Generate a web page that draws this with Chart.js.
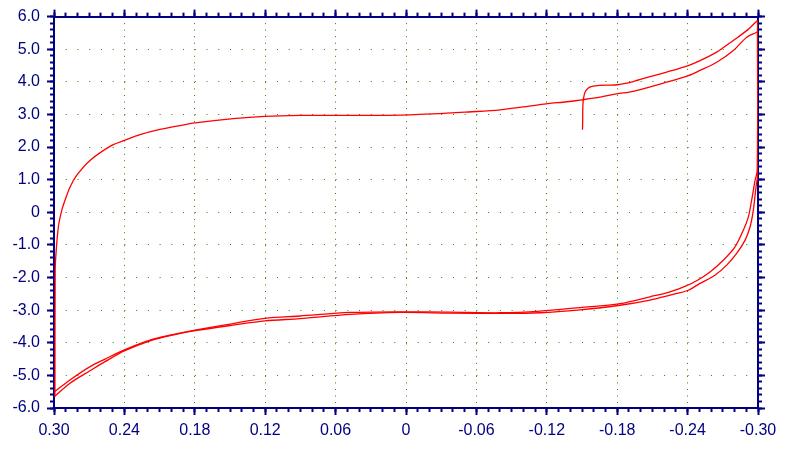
<!DOCTYPE html>
<html>
<head>
<meta charset="utf-8">
<script src="https://cdn.jsdelivr.net/npm/chart.js@4.4.0/dist/chart.umd.min.js"></script>
<style>
  html, body { margin: 0; padding: 0; background: #fff; }
  #wrap { width: 798px; height: 450px; }
</style>
</head>
<body>
<div id="wrap"><canvas id="cv"></canvas></div>
<script>
// potential (x, reversed) and current (y)
const sweep1E = [-0.1504, -0.1506, -0.1506, -0.1508, -0.1513, -0.1525, -0.1551, -0.1585, -0.1653, -0.1798, -0.1937, -0.2080, -0.2222, -0.2406, -0.2506, -0.2648, -0.2790, -0.2904, -0.2989, -0.2996];
const sweep1I = [2.53, 2.82, 3.03, 3.31, 3.49, 3.67, 3.80, 3.86, 3.89, 3.91, 4.01, 4.16, 4.30, 4.50, 4.65, 4.91, 5.27, 5.57, 5.86, 5.88];

const sweep2E = [-0.2996, -0.2996, -0.2983, -0.2960, -0.2932, -0.2889, -0.2818, -0.2733, -0.2633, -0.2506, -0.2406, -0.2250, -0.2080, -0.1824, -0.1483, -0.1142, -0.0801, -0.0375, 0.0051, 0.0477, 0.0904, 0.1202, 0.1474, 0.1798, 0.2000, 0.2182, 0.2401, 0.2565, 0.2693, 0.2864, 0.2996];
const sweep2I = [5.88, 1.13, 0.77, 0.06, -0.45, -0.86, -1.26, -1.62, -1.93, -2.18, -2.39, -2.54, -2.69, -2.85, -2.99, -3.08, -3.10, -3.09, -3.07, -3.13, -3.26, -3.33, -3.46, -3.63, -3.77, -3.94, -4.25, -4.58, -4.86, -5.24, -5.65];

const sweep3E = [0.2992, 0.2990, 0.2983, 0.2963, 0.2934, 0.2906, 0.2864, 0.2807, 0.2693, 0.2508, 0.2395, 0.2267, 0.2097, 0.1926, 0.1798, 0.1474, 0.1202, 0.0904, 0.0605, -0.0034, -0.0603, -0.0801, -0.1082, -0.1208, -0.1370, -0.1500, -0.1653, -0.1796, -0.1937, -0.2222, -0.2406, -0.2506, -0.2648, -0.2790, -0.2904, -0.2989, -0.2996];
const sweep3I = [-5.65, -1.80, -1.26, -0.45, 0.06, 0.37, 0.77, 1.13, 1.59, 2.05, 2.21, 2.38, 2.54, 2.66, 2.74, 2.87, 2.94, 2.97, 2.97, 2.99, 3.09, 3.14, 3.27, 3.33, 3.39, 3.45, 3.53, 3.63, 3.71, 3.99, 4.19, 4.35, 4.60, 4.96, 5.37, 5.52, 5.54];

const sweep4E = [-0.2996, -0.2994, -0.2975, -0.2946, -0.2918, -0.2875, -0.2804, -0.2704, -0.2591, -0.2477, -0.2392, -0.2250, -0.2080, -0.1824, -0.1483, -0.1142, -0.0801, -0.0375, 0.0051, 0.0477, 0.0904, 0.1202, 0.1474, 0.1798, 0.2000, 0.2182, 0.2401, 0.2565, 0.2693, 0.2864, 0.2996];
const sweep4I = [5.54, 1.30, 0.98, 0.37, -0.14, -0.55, -1.06, -1.47, -1.83, -2.10, -2.25, -2.44, -2.59, -2.80, -2.92, -3.03, -3.08, -3.06, -3.05, -3.07, -3.18, -3.25, -3.41, -3.61, -3.76, -3.92, -4.22, -4.50, -4.73, -5.14, -5.50];

const xTicks = [0.30, 0.24, 0.18, 0.12, 0.06, 0, -0.06, -0.12, -0.18, -0.24, -0.30];
const xLabels = ['0.30', '0.24', '0.18', '0.12', '0.06', '0', '-0.06', '-0.12', '-0.18', '-0.24', '-0.30'];
const yTicks = [-6, -5, -4, -3, -2, -1, 0, 1, 2, 3, 4, 5, 6];
const yLabels = ['-6.0', '-5.0', '-4.0', '-3.0', '-2.0', '-1.0', '0', '1.0', '2.0', '3.0', '4.0', '5.0', '6.0'];

const AXIS = '#000080';
const GRID = '#3a7a00';
const RED = '#ff0000';
const font = { family: "'Liberation Sans', Arial, sans-serif", size: 16 };

const toPoints = (es, is) => es.map((e, i) => ({ x: e, y: is[i] }));
const fixSize = px => scale => { if (scale.isHorizontal()) scale.height = px; else scale.width = px; };
const setTicks = values => scale => { scale.ticks = values.map(v => ({ value: v })); };
const steps = (lo, hi, n) => Array.from({ length: n + 1 }, (_, i) => lo + (hi - lo) * i / n);

const xMinor = steps(-0.3, 0.3, 60);
const yMinor = steps(-6, 6, 60);

function axis(pos, isX, opts) {
  const base = {
    type: 'linear',
    position: pos,
    min: isX ? -0.3 : -6,
    max: isX ? 0.3 : 6,
    reverse: isX,
    ticks: { display: false },
    grid: { drawOnChartArea: false, tickLength: 7, tickColor: AXIS, tickWidth: 2, z: -1 },
    border: { display: true, color: AXIS, width: 2 },
    weight: 1
  };
  return Object.assign(base, opts);
}

function minorAxis(pos, isX) {
  return axis(pos, isX, {
    weight: 0,
    afterBuildTicks: setTicks(isX ? xMinor : yMinor),
    afterFit: fixSize(0),
    grid: { drawOnChartArea: false, tickLength: 4, tickColor: AXIS, tickWidth: 2, z: -1 },
    border: { display: false }
  });
}

const lineStyle = { borderColor: RED, borderWidth: 1.3, pointRadius: 0, showLine: true, tension: 0.3, fill: false };

new Chart(document.getElementById('cv'), {
  type: 'scatter',
  data: {
    datasets: [
      Object.assign({ data: toPoints(sweep1E, sweep1I) }, lineStyle),
      Object.assign({ data: toPoints(sweep2E, sweep2I) }, lineStyle),
      Object.assign({ data: toPoints(sweep3E, sweep3I) }, lineStyle),
      Object.assign({ data: toPoints(sweep4E, sweep4I) }, lineStyle)
    ]
  },
  options: {
    responsive: true,
    maintainAspectRatio: false,
    animation: false,
    events: [],
    layout: { padding: 0 },
    plugins: { legend: { display: false }, tooltip: { enabled: false } },
    scales: {
      x: axis('bottom', true, {
        afterBuildTicks: setTicks(xTicks),
        afterFit: fixSize(42),
        grid: { drawOnChartArea: true, color: GRID, lineWidth: 1, tickLength: 7, tickColor: AXIS, tickWidth: 2, z: -1 },
        border: { display: true, color: AXIS, width: 2, dash: [1, 5.533], dashOffset: 0 },
        ticks: { display: true, color: AXIS, font, padding: 6, autoSkip: false, maxRotation: 0,
                 callback: (v, i) => xLabels[i] }
      }),
      y: axis('left', false, {
        afterBuildTicks: setTicks(yTicks),
        afterFit: fixSize(54),
        grid: { drawOnChartArea: true, color: GRID, lineWidth: 1, tickLength: 7, tickColor: AXIS, tickWidth: 2, z: -1 },
        border: { display: true, color: AXIS, width: 2, dash: [1, 10.733], dashOffset: 1 },
        ticks: { display: true, color: AXIS, font, padding: 7, autoSkip: false,
                 callback: (v, i) => yLabels[i] }
      }),
      xTop: axis('top', true, { afterBuildTicks: setTicks(xTicks), afterFit: fixSize(16) }),
      yRight: axis('right', false, { afterBuildTicks: setTicks(yTicks), afterFit: fixSize(40) }),
      xMinorB: minorAxis('bottom', true),
      xMinorT: minorAxis('top', true),
      yMinorL: minorAxis('left', false),
      yMinorR: minorAxis('right', false)
    }
  }
});
</script>
</body>
</html>
